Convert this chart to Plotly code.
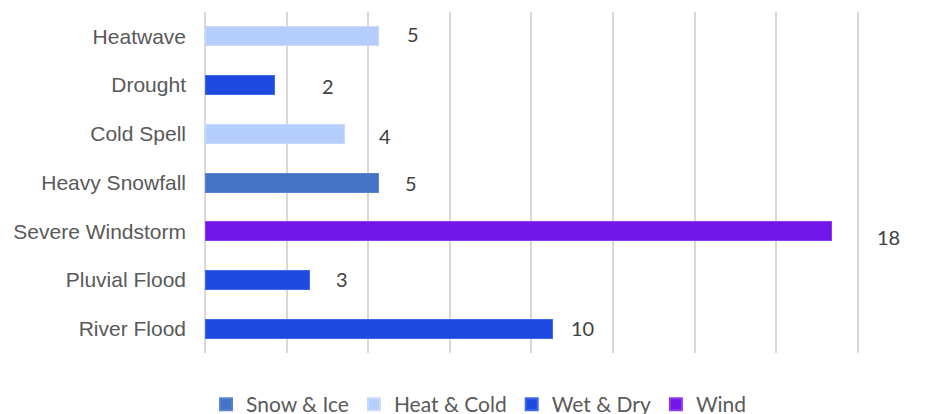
import plotly.graph_objects as go

# Hazard categories (top to bottom) with event counts and hazard group
categories = ["Heatwave", "Drought", "Cold Spell", "Heavy Snowfall",
              "Severe Windstorm", "Pluvial Flood", "River Flood"]
counts = [5, 2, 4, 5, 18, 3, 10]
groups = ["Heat & Cold", "Wet & Dry", "Heat & Cold", "Snow & Ice",
          "Wind", "Wet & Dry", "Wet & Dry"]

group_order = ["Snow & Ice", "Heat & Cold", "Wet & Dry", "Wind"]
group_colors = {
    "Snow & Ice": "#4472C4",
    "Heat & Cold": "#B5CEFD",
    "Wet & Dry": "#1F4AE2",
    "Wind": "#7215E8",
}
group_edges = {
    "Snow & Ice": "#5A84CE",
    "Heat & Cold": "#C6DAFE",
    "Wet & Dry": "#4068EA",
    "Wind": "#8C3EEE",
}

# value-label nudges in pixels (horizontal from bar end, vertical)
label_dx = [34, 53, 41, 32, 57, 33, 30]
label_dy = [2, -1, -2, 0, -6, 1, 1]

fig = go.Figure()
for g in group_order:
    ys = [c for c, gg in zip(categories, groups) if gg == g]
    xs = [v for v, gg in zip(counts, groups) if gg == g]
    fig.add_trace(go.Bar(
        x=xs, y=ys, orientation="h", name=g,
        marker=dict(color=group_colors[g],
                    line=dict(color=group_edges[g], width=1)),
        width=0.39, hoverinfo="x+y",
    ))

for c, v, dx, dy in zip(categories, counts, label_dx, label_dy):
    fig.add_annotation(
        x=v, y=c, text=str(v), showarrow=False,
        xanchor="center", yanchor="middle", xshift=dx, yshift=dy,
        font=dict(family="Lato, sans-serif", size=20, color="#404040"),
    )

grid_step = 18.77 / 8
fig.update_layout(
    width=933, height=414,
    margin=dict(l=205, r=74, t=12, b=61, autoexpand=False),
    paper_bgcolor="white", plot_bgcolor="white",
    barmode="stack",
    showlegend=True,
    legend=dict(
        orientation="h", x=0.419, xanchor="center",
        y=-0.091, yanchor="top",
        font=dict(family="Lato, sans-serif", size=21, color="#595959"),
        traceorder="normal", itemwidth=30, itemsizing="constant",
        bgcolor="rgba(0,0,0,0)",
    ),
    xaxis=dict(
        range=[0, 18.8], dtick=grid_step, tick0=0,
        showticklabels=False, showgrid=True, gridcolor="#D9D9D9",
        gridwidth=1.5, zeroline=True, zerolinecolor="#D9D9D9",
        zerolinewidth=1.5, showline=False, fixedrange=True,
    ),
    yaxis=dict(
        categoryorder="array", categoryarray=categories[::-1],
        range=[-0.5, 6.5], showgrid=False, zeroline=False, showline=False,
        ticks="", ticklabelstandoff=18,
        tickfont=dict(family="Liberation Sans, Arial, sans-serif",
                      size=21, color="#595959"),
        fixedrange=True,
    ),
)

fig.write_html("out.html")
